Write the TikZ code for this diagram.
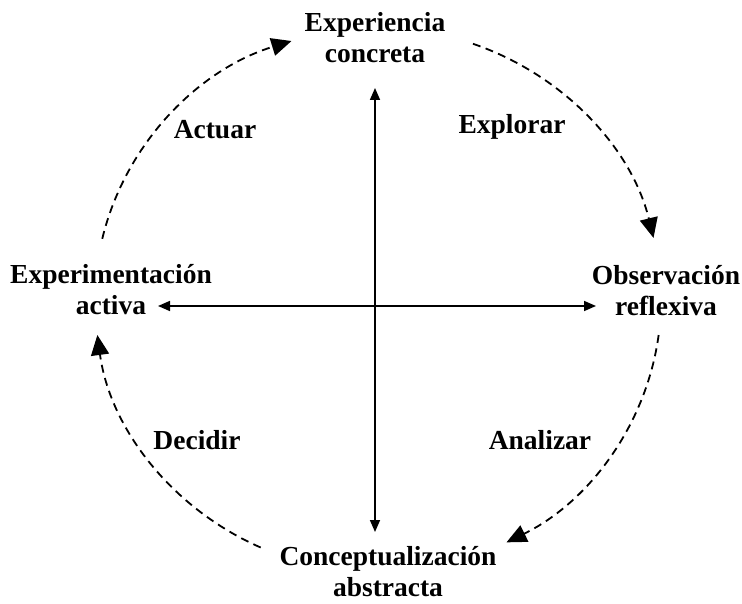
\documentclass[tikz,border=0pt]{standalone}
\usepackage{fontspec}
\setmainfont{Liberation Serif}
\usetikzlibrary{arrows.meta}
\begin{document}
\begin{tikzpicture}[x=1pt,y=1pt,
  lbl/.style={font=\fontsize{27.5}{31}\selectfont\bfseries, align=center, inner sep=0pt},
  axis/.style={line width=1.6pt, {Triangle[length=12pt,width=10pt]}-{Triangle[length=12pt,width=10pt]}},
  cyc/.style={line width=1.8pt, dash pattern=on 8pt off 5.5pt, -{Triangle[length=20pt,width=18pt]}}]
\useasboundingbox (0,0) rectangle (742,603);
% nodes (y = 603 - image y)
\node[lbl] (ce) at (375,565) {Experiencia\\concreta};
\node[lbl] (ea) at (111,313) {Experimentación\\activa};
\node[lbl] (or) at (666,312) {Observación\\reflexiva};
\node[lbl] (ca) at (388,31) {Conceptualización\\abstracta};
\node[lbl] (l1) at (215,473) {Actuar};
\node[lbl] (l2) at (512,476) {Explorar};
\node[lbl] (l3) at (197,163) {Decidir};
\node[lbl] (l4) at (540,163) {Analizar};
% axes
\coordinate (vt) at (375,515);
\coordinate (vb) at (375,71);
\coordinate (hl) at (158,297);
\coordinate (hr) at (596,297);
\draw[axis] (vb) -- (vt);
\draw[axis] (hl) -- (hr);
% cycle arcs
\coordinate (C) at (378,303);
\draw[cyc] (C) ++(70.4:283 and 272) arc[start angle=70.4, end angle=13.2, x radius=283, y radius=272];
\draw[cyc] (C) ++(-7.4:283 and 272) arc[start angle=-7.4, end angle=-63, x radius=283, y radius=272];
\draw[cyc] (C) ++(245.5:283 and 272) arc[start angle=245.5, end angle=187.4, x radius=283, y radius=272];
\draw[cyc] (C) ++(167:283 and 272) arc[start angle=167, end angle=107.8, x radius=283, y radius=272];
\end{tikzpicture}
\end{document}
